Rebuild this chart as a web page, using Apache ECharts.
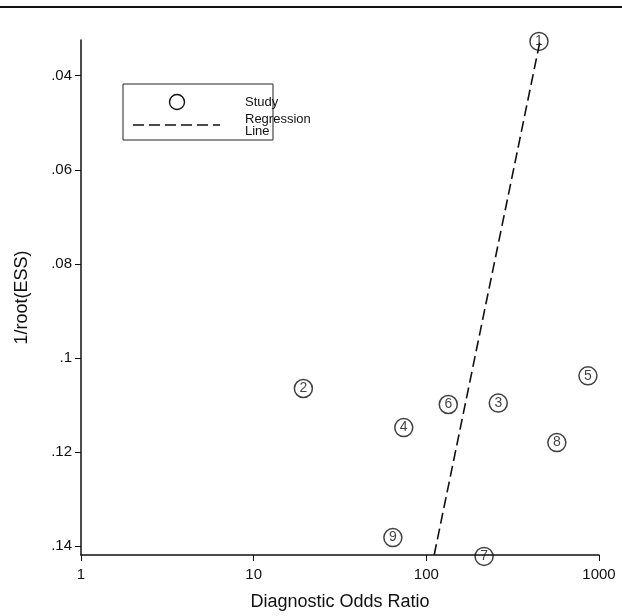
<!DOCTYPE html>
<html>
<head>
<meta charset="utf-8">
<script src="https://cdn.jsdelivr.net/npm/echarts@6/dist/echarts.min.js"></script>
<style>
  html, body { margin: 0; padding: 0; background: #fff; }
  #chart { width: 622px; height: 616px; }
</style>
</head>
<body>
<div id="chart"></div>
<script>
// Study data: diagnostic odds ratio (x, log scale) and 1/root(ESS) (y, inverted)
var studyIds = ['1', '2', '3', '4', '5', '6', '7', '8', '9'];
var studyDOR = [449, 19.4, 261, 74, 863, 134, 216, 570, 64];
var studyInvRootESS = [0.0327, 0.1065, 0.1096, 0.1148, 0.1038, 0.1099, 0.1422, 0.1180, 0.1382];

// Regression line end points
var regDOR = [111, 455];
var regInvRootESS = [0.1419, 0.0327];

// Axis ticks
var xTicks = [1, 10, 100, 1000];
var yTicks = [0.04, 0.06, 0.08, 0.1, 0.12, 0.14];
var yMin = 0.0324, yMax = 0.1419;

var font = 'Liberation Sans, Arial, sans-serif';

var studyData = studyIds.map(function (id, i) {
  return { value: [studyDOR[i], studyInvRootESS[i]], name: id };
});
var regData = regDOR.map(function (d, i) { return [d, regInvRootESS[i]]; });

var chart = echarts.init(document.getElementById('chart'), null, { renderer: 'canvas' });
chart.setOption({
  animation: false,
  backgroundColor: '#fff',
  grid: { left: 81, right: 23, top: 40, bottom: 58, containLabel: false },
  xAxis: {
    type: 'log',
    logBase: 10,
    min: 1,
    max: 1000,
    name: 'Diagnostic Odds Ratio',
    nameLocation: 'middle',
    nameGap: 38,
    nameTextStyle: { fontFamily: font, fontSize: 18, color: '#111' },
    axisLine: { lineStyle: { color: '#111', width: 1.5 } },
    axisTick: { show: true, length: 6, lineStyle: { color: '#111', width: 1 }, customValues: xTicks },
    minorTick: { show: false },
    axisLabel: { fontFamily: font, fontSize: 15, color: '#111', margin: 12, customValues: xTicks,
      formatter: function (v) { return String(Math.round(v)); } },
    splitLine: { show: false }
  },
  yAxis: {
    type: 'value',
    inverse: true,
    min: yMin,
    max: yMax,
    name: '1/root(ESS)',
    nameLocation: 'middle',
    nameGap: 50,
    nameRotate: 90,
    nameTextStyle: { fontFamily: font, fontSize: 18, color: '#111' },
    axisLine: { show: true, lineStyle: { color: '#111', width: 1.5 } },
    axisTick: { show: true, length: 6, lineStyle: { color: '#111', width: 1 }, customValues: yTicks },
    axisLabel: { fontFamily: font, fontSize: 15, color: '#111', margin: 9, customValues: yTicks,
      formatter: function (v) { return String(+v.toFixed(2)).replace(/^0\./, '.'); } },
    splitLine: { show: false }
  },
  series: [
    {
      name: 'Regression Line',
      type: 'line',
      data: regData,
      symbol: 'none',
      clip: false,
      lineStyle: { color: '#111', width: 1.6, type: [11, 5] },
      z: 2
    },
    {
      name: 'Study',
      type: 'scatter',
      data: studyData,
      symbol: 'circle',
      symbolSize: 18,
      clip: false,
      itemStyle: { color: 'rgba(255,255,255,0)', borderColor: '#111', borderWidth: 1.5 },
      label: {
        show: true,
        position: 'inside',
        formatter: function (p) { return p.name; },
        fontFamily: font,
        fontSize: 14,
        color: '#111'
      },
      z: 3
    }
  ],
  graphic: [
    { type: 'rect', left: 0, top: 6, shape: { width: 622, height: 2 }, style: { fill: '#111' } },
    { type: 'rect', shape: { x: 123, y: 84, width: 150, height: 56 }, style: { fill: '#fff', stroke: '#222', lineWidth: 1 } },
    { type: 'circle', shape: { cx: 177, cy: 102, r: 7.5 }, style: { fill: 'none', stroke: '#111', lineWidth: 1.4 } },
    { type: 'line', shape: { x1: 133, y1: 125, x2: 220, y2: 125 }, style: { stroke: '#111', lineWidth: 1.6, lineDash: [11, 5] } },
    { type: 'text', x: 245, y: 102, style: { text: 'Study', font: '13px ' + font, fill: '#111', textVerticalAlign: 'middle' } },
    { type: 'text', x: 245, y: 119, style: { text: 'Regression', font: '13px ' + font, fill: '#111', textVerticalAlign: 'middle' } },
    { type: 'text', x: 245, y: 131, style: { text: 'Line', font: '13px ' + font, fill: '#111', textVerticalAlign: 'middle' } }
  ]
});
</script>
</body>
</html>
